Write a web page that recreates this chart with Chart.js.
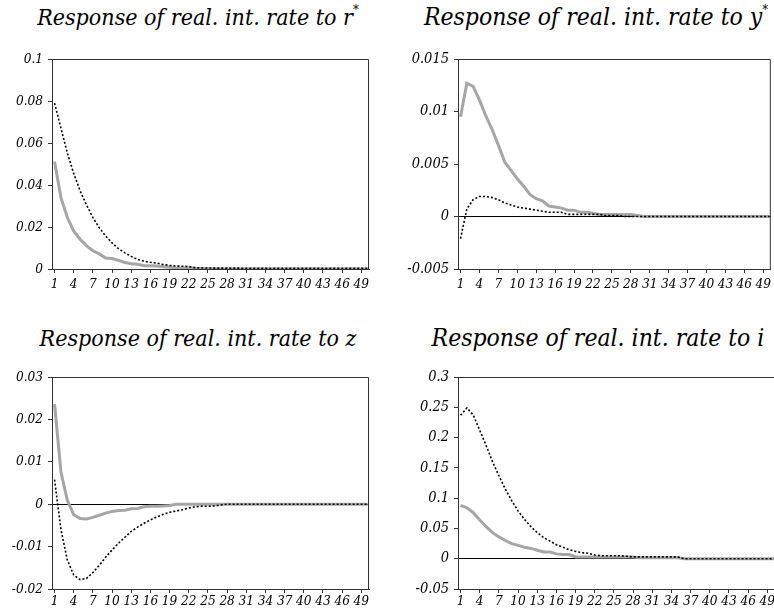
<!DOCTYPE html>
<html>
<head>
<meta charset="utf-8">
<script src="https://cdn.jsdelivr.net/npm/chart.js@4/dist/chart.umd.min.js"></script>
<style>
  html, body { margin: 0; padding: 0; background: #fff; overflow: hidden; width: 774px; height: 612px; }
  canvas { position: absolute; }
  .title {
    position: absolute; font-family: 'DejaVu Serif Condensed', 'DejaVu Serif', serif; font-stretch: condensed;
    font-style: italic; font-size: 23px; line-height: 24px; white-space: nowrap; text-align: center; color: #000;
  }
  .title.wide { font-size: 24.5px; }
  .title sup { font-size: 13px; line-height: 0; position: relative; top: -2px; }
</style>
</head>
<body>
<div class="title" style="left:0px; top:5px; width:396px">Response of real. int. rate to r<sup>*</sup></div>
<div class="title wide" style="left:398px; top:5px; width:396px">Response of real. int. rate to y<sup>*</sup></div>
<div class="title" style="left:0px; top:326px; width:396px">Response of real. int. rate to z</div>
<div class="title wide" style="left:400px; top:326px; width:396px">Response of real. int. rate to i</div>

<canvas id="pRStar" width="387" height="306" style="left:0px; top:0px"></canvas>
<canvas id="pYStar" width="387" height="306" style="left:387px; top:0px"></canvas>
<canvas id="pZ" width="387" height="306" style="left:0px; top:306px"></canvas>
<canvas id="pI" width="390" height="306" style="left:387px; top:306px"></canvas>

<script>
// Horizon (periods after the shock)
const periods = [1,2,3,4,5,6,7,8,9,10,11,12,13,14,15,16,17,18,19,20,21,22,23,24,25,
                 26,27,28,29,30,31,32,33,34,35,36,37,38,39,40,41,42,43,44,45,46,47,48,49,50];
const xTickValues = [1,4,7,10,13,16,19,22,25,28,31,34,37,40,43,46,49];

// Shock to r*
const rStarDotted = [0.0790,0.0670,0.0552,0.0455,0.0372,0.0305,0.0245,0.0196,0.0157,0.0124,
                     0.0097,0.0077,0.0060,0.0046,0.0037,0.0032,0.0028,0.0021,0.0017,0.0014,
                     0.0013,0.0012,0.0006,0.0005,0.0005,0.0004,0.0004,0.0004,0.0004,0.0004,
                     0.0003,0.0003,0.0003,0.0003,0.0003,0.0003,0.0003,0.0003,0.0003,0.0003,
                     0.0003,0.0003,0.0003,0.0003,0.0003,0.0003,0.0003,0.0003,0.0003,0.0003];
const rStarSolid  = [0.0512,0.0340,0.0245,0.0180,0.0142,0.0110,0.0087,0.0072,0.0052,0.0050,
                     0.0041,0.0031,0.0025,0.0023,0.0016,0.0015,0.0014,0.0011,0.0008,0.0006,
                     0.0005,0.0005,0.0003,0.0002,0.0001,0.0001,0,0,0,0,
                     0,0,0,0,0,0,0,0,0,0,
                     0,0,0,0,0,0,0,0,0,0];

// Shock to y*
const yStarDotted = [-0.0021,0.0007,0.0016,0.0019,0.0019,0.0018,0.0016,0.0013,0.0011,0.0009,
                     0.0008,0.0007,0.0006,0.0005,0.0004,0.0004,0.0004,0.0002,0.0002,0.0002,
                     0.0002,0.0002,0.0002,0.0001,0.0001,0.0001,0,0,0,0,
                     0,0,0,0,0,0,0,0,0,0,
                     0,0,0,0,0,0,0,0,0,0];
const yStarSolid  = [0.0095,0.0127,0.0124,0.0111,0.0096,0.0083,0.0068,0.0052,0.0044,0.0036,
                     0.0029,0.0021,0.0017,0.0015,0.0010,0.0009,0.0008,0.0006,0.0006,0.0004,
                     0.0004,0.0003,0.0002,0.0002,0.0002,0.0002,0.0002,0.0002,0.0001,0,
                     0,0,0,0,0,0,0,0,0,0,
                     0,0,0,0,0,0,0,0,0,0];

// Shock to z
const zDotted = [0.0058,-0.0060,-0.0132,-0.0167,-0.0178,-0.0175,-0.0161,-0.0144,-0.0125,-0.0108,
                 -0.0092,-0.0078,-0.0064,-0.0054,-0.0045,-0.0037,-0.0030,-0.0024,-0.0019,-0.0016,
                 -0.0013,-0.0009,-0.0006,-0.0005,-0.0005,-0.0004,-0.0002,0,0,0,
                 0,0,0,0,0,0,0,0,0,0,
                 0,0,0,0,0,0,0,0,0,0];
const zSolid  = [0.0236,0.0076,0.0009,-0.0025,-0.0034,-0.0035,-0.0031,-0.0026,-0.0021,-0.0017,
                 -0.0015,-0.0014,-0.0011,-0.0010,-0.0006,-0.0005,-0.0005,-0.0004,-0.0003,0,
                 0,0,0,0,0,0,0,0,0,0,
                 0,0,0,0,0,0,0,0,0,0,
                 0,0,0,0,0,0,0,0,0,0];

// Shock to i
const iDotted = [0.237,0.249,0.237,0.212,0.187,0.160,0.137,0.115,0.096,0.079,
                 0.065,0.053,0.043,0.035,0.029,0.023,0.019,0.015,0.012,0.010,
                 0.009,0.006,0.005,0.005,0.005,0.005,0.004,0.003,0.003,0.003,
                 0.003,0.003,0.003,0.003,0.003,0,0,0,0,0,
                 0,0,0,0,0,0,0,0,0,0];
const iSolid  = [0.088,0.084,0.076,0.064,0.053,0.043,0.036,0.030,0.025,0.022,
                 0.019,0.017,0.014,0.011,0.011,0.008,0.007,0.007,0.003,0.003,
                 0.003,0.003,0.003,0.003,0.003,0.003,0.003,0.003,0.0015,0.0015,
                 0.0015,0.0015,0.0015,0.0015,0.0015,0,0,0,0,0,
                 0,0,0,0,0,0,0,0,0,0];

// Value-axis ticks for each panel
const yTicksRStar = [0, 0.02, 0.04, 0.06, 0.08, 0.1];
const yTicksYStar = [-0.005, 0, 0.005, 0.01, 0.015];
const yTicksZ     = [-0.02, -0.01, 0, 0.01, 0.02, 0.03];
const yTicksI     = [-0.05, 0, 0.05, 0.1, 0.15, 0.2, 0.25, 0.3];

const axisColor = '#333';
const tickFamily = "'DejaVu Serif Condensed', 'DejaVu Serif', serif";

// Top and right edges of the plot frame
const frame = {
  id: 'frame',
  afterDraw(chart) {
    const { ctx, chartArea: a } = chart;
    ctx.save();
    ctx.strokeStyle = axisColor;
    ctx.lineWidth = 1;
    ctx.beginPath();
    ctx.moveTo(a.left, a.top + 0.5);
    ctx.lineTo(a.right - 0.5, a.top + 0.5);
    ctx.lineTo(a.right - 0.5, a.bottom);
    ctx.stroke();
    ctx.restore();
  }
};

function panel(canvasId, dotted, solid, yTicks, box) {
  const pts = s => periods.map((p, i) => ({ x: p, y: s[i] }));
  const xFont = { family: tickFamily, style: 'italic', size: 13.5 };
  const yFont = { family: tickFamily, style: 'italic', size: box.yfs };
  return new Chart(document.getElementById(canvasId), {
    type: 'line',
    data: {
      datasets: [
        { data: pts(dotted), borderColor: '#000', borderWidth: 1.6, borderDash: [2, 2],
          pointRadius: 0, tension: 0, fill: false },
        { data: pts(solid), borderColor: '#a6a6a6', borderWidth: 3,
          pointRadius: 0, tension: 0, fill: false }
      ]
    },
    options: {
      responsive: false,
      animation: false,
      events: [],
      layout: { padding: { left: 0, top: box.top, right: box.right, bottom: box.bottom } },
      plugins: { legend: { display: false }, tooltip: { enabled: false }, title: { display: false } },
      scales: {
        x: {
          type: 'linear', min: 0.6, max: 50.2,
          afterBuildTicks: s => { s.ticks = xTickValues.map(v => ({ value: v })); },
          afterFit: s => { s.height = box.xh; },
          grid: { drawOnChartArea: false, drawTicks: true, tickLength: 4, tickColor: axisColor },
          border: { display: true, color: axisColor, width: 1 },
          ticks: { font: xFont, color: '#000', padding: box.xpad, maxRotation: 0, autoSkip: false,
                   callback: v => String(v) }
        },
        y: {
          type: 'linear', min: yTicks[0], max: yTicks[yTicks.length - 1],
          afterBuildTicks: s => { s.ticks = yTicks.map(v => ({ value: v })); },
          afterFit: s => { s.width = box.yw; },
          grid: {
            drawOnChartArea: true, drawTicks: true, tickLength: 4, tickColor: axisColor,
            color: c => (c.tick && c.tick.value === 0) ? '#000' : 'rgba(0,0,0,0)'
          },
          border: { display: true, color: axisColor, width: 1 },
          ticks: { font: yFont, color: '#000', padding: 5, autoSkip: false,
                   callback: v => String(v) }
        }
      }
    },
    plugins: [frame]
  });
}

panel('pRStar', rStarDotted, rStarSolid, yTicksRStar, { yw: 52, top: 59, right: 18, xh: 30, bottom: 7, yfs: 13.5, xpad: 3 });
panel('pYStar', yStarDotted, yStarSolid, yTicksYStar, { yw: 71, top: 59, right: 1, xh: 30, bottom: 7, yfs: 14.5, xpad: 3 });
panel('pZ', zDotted, zSolid, yTicksZ, { yw: 52, top: 71, right: 18, xh: 20, bottom: 3, yfs: 13.5, xpad: 0 });
panel('pI', iDotted, iSolid, yTicksI, { yw: 71, top: 71, right: 2, xh: 20, bottom: 3, yfs: 14.5, xpad: 0 });
</script>
</body>
</html>
